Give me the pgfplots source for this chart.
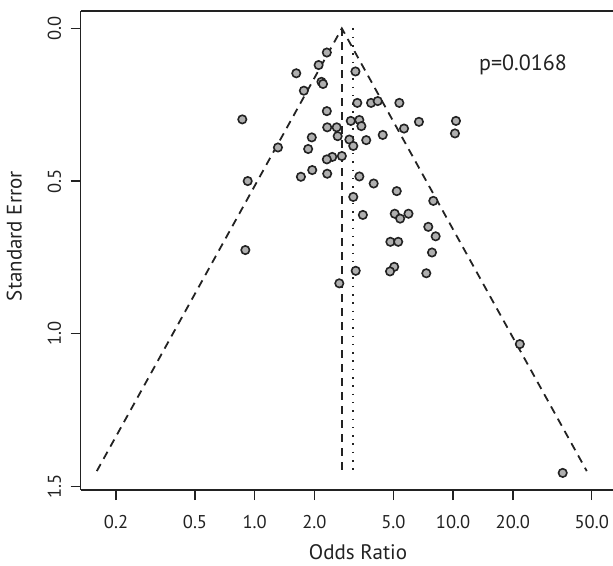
\documentclass[border=0pt]{standalone}
\usepackage{pgfplots}
\pgfplotsset{compat=1.18}
\usepackage{fontspec}
\setmainfont{PT Sans}
\usetikzlibrary{calc}
\definecolor{ink}{HTML}{222222}
\definecolor{dotfill}{HTML}{AFAFAF}

\begin{document}
\begin{tikzpicture}
\begin{axis}[
  name=ax,
  width=532.3pt, height=479pt, scale only axis,
  xmode=log, xmin=0.1327, xmax=64,
  ymin=-0.057, ymax=1.512, y dir=reverse,
  axis x line=box, axis y line=left,
  every outer x axis line/.append style={-},
  every outer y axis line/.append style={-},
  axis line style={ink, line width=1.5pt},
  tick pos=left, tick align=outside,
  major tick length=10pt,
  tick style={ink, line width=1.5pt},
  xtick={0.2,0.5,1,2,5,10,20,50},
  xticklabels={0.2,0.5,1.0,2.0,5.0,10.0,20.0,50.0},
  ytick={0,0.5,1,1.5},
  yticklabels={0.0,0.5,1.0,1.5},
  minor tick num=0,
  log basis x=10,
  ticklabel style={font=\fontsize{18.5}{22}\selectfont, text=ink},
  xticklabel style={inner sep=15pt},
  yticklabel style={rotate=90, anchor=south, inner sep=9.5pt},
  xlabel={Odds Ratio}, ylabel={Standard Error},
  label style={font=\fontsize{21}{25}\selectfont, text=ink, inner sep=1pt},
  xlabel style={at={(0.521,-0.1294)}, anchor=center},
  ylabel style={at={(-0.125,0.530)}, anchor=center},
  clip=false,
]
% funnel and pooled estimates
\addplot[ink, line width=1.8pt, dash pattern=on 8pt off 6pt]
  coordinates {(0.160,1.45) (2.75,0) (47.2,1.45)};
\addplot[ink, line width=1.8pt, dash pattern=on 8pt off 6pt]
  coordinates {(2.75,0) (2.75,1.45)};
\addplot[ink, line width=2pt, dash pattern=on 1.5pt off 6.8pt]
  coordinates {(3.14,0) (3.14,1.45)};
% studies
\addplot[only marks, mark=*, mark size=4.2pt,
  mark options={fill=dotfill, draw=ink, line width=1.6pt}]
  coordinates {
  (2.31,0.079) (2.10,0.120) (1.62,0.147) (3.22,0.141) (2.17,0.175)
  (2.21,0.182) (1.77,0.204) (3.29,0.244) (3.86,0.244) (4.17,0.238)
  (5.36,0.244) (2.31,0.271) (0.866,0.298) (3.05,0.303) (3.37,0.300)
  (3.45,0.320) (2.32,0.324) (2.59,0.324) (5.66,0.328) (2.62,0.353)
  (1.94,0.357) (4.42,0.349) (3.00,0.364) (3.65,0.366) (1.31,0.390)
  (1.86,0.395) (3.14,0.385) (2.75,0.418) (2.46,0.421) (2.31,0.429)
  (1.95,0.464) (2.32,0.476) (1.71,0.486) (0.922,0.500) (3.37,0.485)
  (3.98,0.508) (5.20,0.533) (3.14,0.552) (3.51,0.611) (5.08,0.607)
  (5.41,0.623) (5.96,0.607) (0.897,0.726) (4.83,0.699) (5.29,0.699)
  (3.23,0.794) (5.05,0.781) (4.81,0.796) (2.67,0.835) (6.73,0.306)
  (10.34,0.303) (10.22,0.344) (7.95,0.565) (7.50,0.650) (8.17,0.681)
  (7.83,0.734) (7.33,0.802) (35.7,1.456) (21.7,1.034)
  };
\node[font=\fontsize{22}{26}\selectfont, text=ink] at (axis cs:22.5,0.12) {p=0.0168};
\end{axis}
\pgfresetboundingbox
\path[use as bounding box] ($(ax.south west)+(-80.7pt,-75pt)$) rectangle ($(ax.north east)+(0pt,11pt)$);
\end{tikzpicture}
\end{document}
